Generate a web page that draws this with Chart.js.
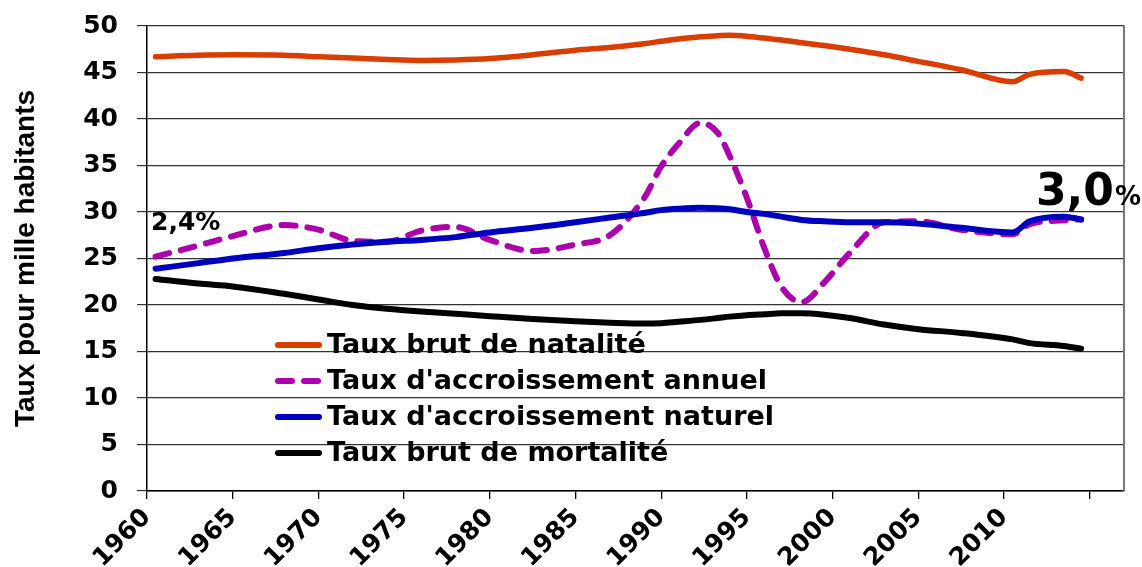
<!DOCTYPE html>
<html>
<head>
<meta charset="utf-8">
<script src="https://cdn.jsdelivr.net/npm/chart.js@4.4.1/dist/chart.umd.min.js"></script>
<style>
  html, body { margin: 0; padding: 0; background: #fff; }
  #wrap { width: 1142px; height: 567px; }
</style>
</head>
<body>
<div id="wrap"><canvas id="tauxChart" width="1142" height="567"></canvas></div>
<script>
// Années
const years = [1960.5, 1963, 1965, 1968, 1970, 1972, 1974, 1976, 1978, 1980, 1982.5, 1985, 1987, 1989, 1990, 1991,
  1992.3, 1993.3, 1994, 1995, 1996, 1997, 1998.2, 1999.5, 2001, 2003, 2005, 2007.5, 2010.5, 2011.5, 2013.5, 2014.5];

// Taux pour mille habitants
const natalite = [46.7, 46.85, 46.9, 46.85, 46.7, 46.55, 46.4, 46.3, 46.35, 46.5, 46.9, 47.4, 47.7, 48.1, 48.35, 48.6,
  48.85, 48.95, 49.0, 48.9, 48.7, 48.5, 48.2, 47.9, 47.5, 46.9, 46.2, 45.3, 44.0, 44.8, 45.1, 44.4];
const accroissementAnnuel = [25.2, 26.4, 27.4, 28.6, 28.1, 26.9, 26.8, 28.0, 28.4, 27.0, 25.8, 26.5, 27.5, 31.5, 34.9, 37.3,
  39.6, 38.5, 36.0, 31.5, 26.2, 22.0, 20.3, 22.4, 25.6, 28.9, 29.0, 28.1, 27.6, 28.7, 29.1, 29.2];
const accroissementNaturel = [23.9, 24.5, 25.0, 25.6, 26.1, 26.5, 26.8, 27.0, 27.3, 27.8, 28.3, 28.9, 29.4, 29.9, 30.2, 30.35,
  30.45, 30.4, 30.3, 30.0, 29.8, 29.5, 29.15, 29.0, 28.9, 28.9, 28.75, 28.3, 27.8, 29.0, 29.5, 29.2];
const mortalite = [22.8, 22.3, 22.0, 21.2, 20.6, 20.0, 19.6, 19.3, 19.05, 18.8, 18.5, 18.25, 18.1, 18.0, 18.05, 18.2,
  18.4, 18.6, 18.75, 18.9, 19.0, 19.1, 19.1, 18.95, 18.6, 17.9, 17.4, 17.0, 16.3, 15.9, 15.6, 15.3];

const seriesLabels = ['Taux brut de natalité', "Taux d'accroissement annuel", "Taux d'accroissement naturel", 'Taux brut de mortalité'];
const yTicks = [0, 5, 10, 15, 20, 25, 30, 35, 40, 45, 50];
const xTickLabels = [1960, 1965, 1970, 1975, 1980, 1985, 1990, 1995, 2000, 2005, 2010];
const startLabel = '2,4%';
const endLabel = '3,0';

const FONT = 'DejaVu Sans';
Chart.defaults.font.family = FONT;
Chart.defaults.font.weight = 'bold';
Chart.defaults.color = '#000';

function toPoints(values) {
  return values.map((v, i) => ({ x: years[i], y: v }));
}

// Legend drawn inside the plot + percentage notes + right border
const extras = {
  id: 'extras',
  afterDraw(chart) {
    const ctx = chart.ctx;
    const area = chart.chartArea;
    const y = chart.scales.y;
    ctx.save();

    // right border of the plot
    ctx.strokeStyle = '#777';
    ctx.lineWidth = 2;
    ctx.beginPath();
    ctx.moveTo(area.right, y.getPixelForValue(50));
    ctx.lineTo(area.right, area.bottom);
    ctx.stroke();

    // legend
    ctx.font = 'bold 27px ' + FONT;
    ctx.textBaseline = 'middle';
    ctx.textAlign = 'left';
    chart.data.datasets.forEach((ds, row) => {
      const ly = 345 + row * 36;
      ctx.strokeStyle = ds.borderColor;
      ctx.lineWidth = 6;
      ctx.lineCap = 'round';
      ctx.setLineDash(ds.borderDash || []);
      ctx.beginPath();
      ctx.moveTo(278, ly);
      ctx.lineTo(319, ly);
      ctx.stroke();
      ctx.setLineDash([]);
      ctx.fillStyle = '#000';
      ctx.fillText(ds.label, 327, ly + 1);
    });

    // notes
    ctx.textBaseline = 'alphabetic';
    ctx.fillStyle = '#000';
    ctx.font = 'bold 25px ' + FONT;
    ctx.fillText(startLabel, 151, 230);
    ctx.font = 'bold 44px ' + FONT;
    ctx.fillText(endLabel, 1036, 205);
    const w = ctx.measureText(endLabel).width;
    ctx.font = 'bold 26px ' + FONT;
    ctx.fillText('%', 1036 + w + 1, 205);

    ctx.restore();
  }
};

const ctx = document.getElementById('tauxChart').getContext('2d');
new Chart(ctx, {
  type: 'line',
  data: {
    datasets: [
      {
        label: seriesLabels[0],
        data: toPoints(natalite),
        borderColor: '#D93D00',
        borderWidth: 5.5,
        order: 3
      },
      {
        label: seriesLabels[1],
        data: toPoints(accroissementAnnuel),
        borderColor: '#AD00AD',
        borderWidth: 6,
        borderDash: [14, 12],
        order: 2
      },
      {
        label: seriesLabels[2],
        data: toPoints(accroissementNaturel),
        borderColor: '#0000BF',
        borderWidth: 6,
        order: 1
      },
      {
        label: seriesLabels[3],
        data: toPoints(mortalite),
        borderColor: '#000000',
        borderWidth: 6,
        order: 0
      }
    ]
  },
  options: {
    responsive: false,
    animation: false,
    layout: { padding: { top: 26, right: 18, left: 0, bottom: 0 } },
    elements: {
      point: { radius: 0 },
      line: { cubicInterpolationMode: 'monotone', borderCapStyle: 'round', borderJoinStyle: 'round', fill: false }
    },
    plugins: {
      legend: { display: false },
      tooltip: { enabled: false }
    },
    scales: {
      x: {
        type: 'linear',
        min: 1960,
        max: 2017,
        afterFit(scale) { scale.height = 76; },
        afterBuildTicks(scale) {
          scale.ticks = xTickLabels.concat([2015]).map(v => ({ value: v }));
        },
        ticks: {
          callback: v => xTickLabels.includes(v) ? String(v) : '',
          minRotation: 45,
          maxRotation: 45,
          padding: 4,
          font: { size: 25, weight: 'bold' }
        },
        grid: { drawOnChartArea: false, drawTicks: true, tickLength: 8, color: '#000', lineWidth: 1.3 },
        border: { display: true, color: '#000', width: 1.5 }
      },
      y: {
        min: 0,
        max: 50,
        afterFit(scale) {
          scale.width = 147;
          scale.paddingTop = 0;
          scale.paddingBottom = 0;
        },
        afterBuildTicks(scale) {
          scale.ticks = yTicks.map(v => ({ value: v }));
        },
        ticks: {
          padding: 19,
          font: { size: 25, weight: 'bold' }
        },
        grid: { color: '#333', lineWidth: 1.2, tickLength: 10 },
        border: { display: true, color: '#000', width: 1.5 },
        title: {
          display: true,
          text: 'Taux pour mille habitants',
          font: { family: 'Liberation Sans', size: 28, weight: 'bold' },
          padding: { top: 9, bottom: 0 }
        }
      }
    }
  },
  plugins: [extras]
});
</script>
</body>
</html>
